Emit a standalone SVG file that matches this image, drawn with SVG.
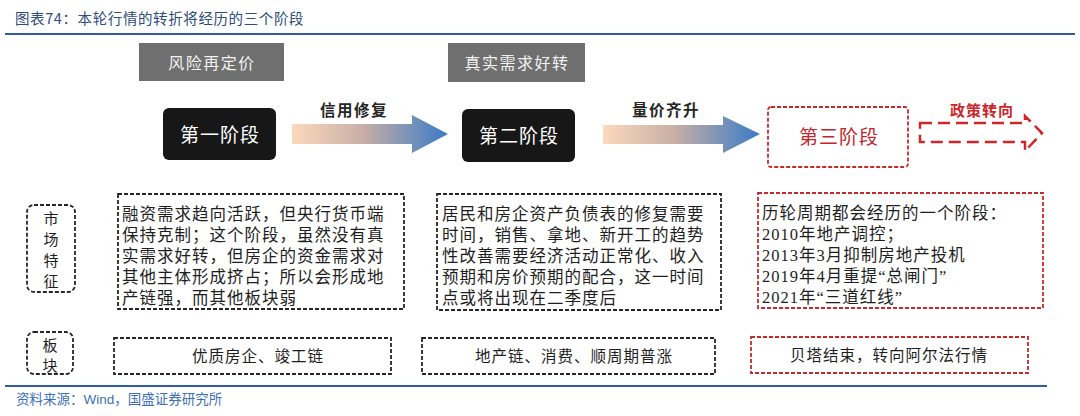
<svg xmlns="http://www.w3.org/2000/svg" width="1080" height="416" viewBox="0 0 1080 416">
<defs>
<linearGradient id="grad" x1="0" y1="0" x2="1" y2="0">
<stop offset="0" stop-color="#FCD9BC"/>
<stop offset="0.45" stop-color="#C9AFA6"/>
<stop offset="1" stop-color="#3A7BC6"/>
</linearGradient>
<style>
.title{font-family:"Noto Sans CJK SC","Liberation Sans",sans-serif;font-size:14.5px;fill:#2E4C7C;letter-spacing:0.6px}
.src{font-family:"Liberation Sans","Noto Sans CJK SC",sans-serif;font-size:13.5px;fill:#3D6FB6}
.gray{fill:#6F6F6F}
.graytxt{font-family:"Noto Sans CJK SC",serif;font-size:16px;fill:#F2F2F2;text-anchor:middle;letter-spacing:1.5px}
.stage{fill:#171717}
.stagetxt{font-family:"Noto Sans CJK SC",serif;font-size:19px;fill:#FFFFFF;text-anchor:middle;letter-spacing:1px}
.stage3txt{font-family:"Noto Sans CJK SC",serif;font-size:19px;fill:#C0272D;text-anchor:middle;letter-spacing:1px}
.arrlbl{font-family:"Noto Sans CJK SC",serif;font-size:15.5px;font-weight:bold;fill:#262626;text-anchor:middle;letter-spacing:1.5px}
.redlbl{font-family:"Noto Sans CJK SC",serif;font-size:15px;font-weight:bold;fill:#C8282C;text-anchor:middle;letter-spacing:1px}
.dbox{fill:#FFFFFF;stroke:#262626;stroke-width:1.8;stroke-dasharray:4 2}
.rbox{fill:#FFFFFF;stroke:#C8282C;stroke-width:1.8;stroke-dasharray:4 2}
.body{font-family:"Liberation Serif","Noto Sans CJK SC",serif;font-size:16.5px;fill:#1E1E1E;letter-spacing:1px}
.side{font-family:"Noto Sans CJK SC",serif;font-size:15px;fill:#1E1E1E;text-anchor:middle}
.sect{font-family:"Noto Sans CJK SC",serif;font-size:15.5px;fill:#1E1E1E;text-anchor:middle;letter-spacing:1px}
</style>
</defs>
<rect width="1080" height="416" fill="#FFFFFF"/>

<text class="title" x="15" y="24">图表74：本轮行情的转折将经历的三个阶段</text>
<line x1="5" y1="34" x2="1075" y2="34" stroke="#2F5CA8" stroke-width="2"/>

<g id="phase-label-1">
<rect class="gray" x="139" y="43" width="145" height="38"/>
<text class="graytxt" x="212" y="69">风险再定价</text>
</g>
<g id="phase-label-2">
<rect class="gray" x="448" y="43" width="137" height="39"/>
<text class="graytxt" x="517" y="69">真实需求好转</text>
</g>

<g id="stage-1">
<rect class="stage" x="163" y="108" width="113" height="52" rx="6"/>
<text class="stagetxt" x="220" y="142">第一阶段</text>
</g>
<g id="stage-2">
<rect class="stage" x="462" y="109" width="113" height="53" rx="6"/>
<text class="stagetxt" x="519" y="143">第二阶段</text>
</g>
<g id="stage-3">
<rect class="rbox" x="768" y="107" width="140" height="60" rx="3" stroke-width="2"/>
<text class="stage3txt" x="839" y="144">第三阶段</text>
</g>

<g id="connectors">
<path d="M292,124 L412,124 L412,115 L448,134 L412,153 L412,144 L292,144 Z" fill="url(#grad)"/>
<text class="arrlbl" x="354" y="116">信用修复</text>
<path d="M603,125 L723,125 L723,116 L760,134 L723,153 L723,144 L603,144 Z" fill="url(#grad)"/>
<text class="arrlbl" x="666" y="116">量价齐升</text>
<path d="M920,123 L1025,123 L1025,116 L1042,133 L1025,151 L1025,142 L920,142 Z" fill="none" stroke="#D0262A" stroke-width="2.5" stroke-dasharray="12 6"/>
<text class="redlbl" x="982" y="116">政策转向</text>
</g>

<g id="side-market">
<rect class="dbox" x="27" y="205" width="48" height="87" rx="7"/>
<text class="side" x="51" y="224">市</text>
<text class="side" x="51" y="245">场</text>
<text class="side" x="51" y="266">特</text>
<text class="side" x="51" y="287">征</text>
</g>
<g id="side-sector">
<rect class="dbox" x="27" y="332" width="46" height="42" rx="7"/>
<text class="side" x="50" y="351">板</text>
<text class="side" x="50" y="371">块</text>
</g>

<g id="market-1">
<rect class="dbox" x="118" y="194" width="286" height="115"/>
<text class="body" x="122" y="220">融资需求趋向活跃，但央行货币端</text>
<text class="body" x="122" y="241">保持克制；这个阶段，虽然没有真</text>
<text class="body" x="122" y="262">实需求好转，但房企的资金需求对</text>
<text class="body" x="122" y="283">其他主体形成挤占；所以会形成地</text>
<text class="body" x="122" y="304">产链强，而其他板块弱</text>
</g>
<g id="market-2">
<rect class="dbox" x="437" y="194" width="284" height="116"/>
<text class="body" x="442" y="220">居民和房企资产负债表的修复需要</text>
<text class="body" x="442" y="241">时间，销售、拿地、新开工的趋势</text>
<text class="body" x="442" y="262">性改善需要经济活动正常化、收入</text>
<text class="body" x="442" y="283">预期和房价预期的配合，这一时间</text>
<text class="body" x="442" y="304">点或将出现在二季度后</text>
</g>
<g id="market-3">
<rect class="rbox" x="758" y="193" width="285" height="115"/>
<text class="body" x="762" y="219">历轮周期都会经历的一个阶段：</text>
<text class="body" x="762" y="240">2010年地产调控；</text>
<text class="body" x="762" y="261">2013年3月抑制房地产投机</text>
<text class="body" x="762" y="282">2019年4月重提“总闸门”</text>
<text class="body" x="762" y="303">2021年“三道红线”</text>
</g>

<g id="sector-1">
<rect class="dbox" x="114" y="338" width="277" height="36"/>
<text class="sect" x="258" y="362">优质房企、竣工链</text>
</g>
<g id="sector-2">
<rect class="dbox" x="422" y="338" width="293" height="36"/>
<text class="sect" x="574" y="362">地产链、消费、顺周期普涨</text>
</g>
<g id="sector-3">
<rect class="rbox" x="751" y="337" width="277" height="36"/>
<text class="sect" x="889" y="361">贝塔结束，转向阿尔法行情</text>
</g>

<line x1="5" y1="386" x2="1047" y2="386" stroke="#2F5CA8" stroke-width="2"/>
<text class="src" x="16" y="404">资料来源：Wind，国盛证券研究所</text>
</svg>
